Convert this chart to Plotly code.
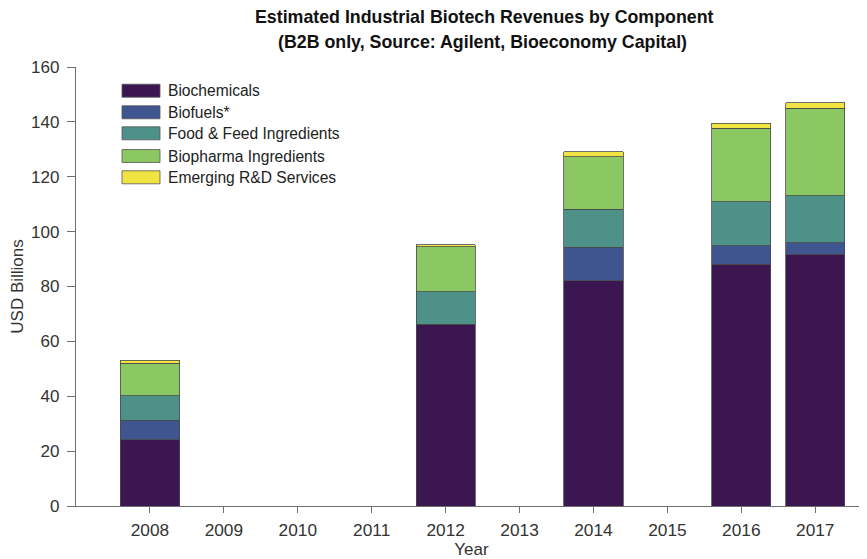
import plotly.graph_objects as go

years = [2008, 2012, 2014, 2016, 2017]
tick_years = [2008, 2009, 2010, 2011, 2012, 2013, 2014, 2015, 2016, 2017]
biochemicals = [24.2, 66.2, 82.1, 88.2, 91.7]
biofuels = [7.0, 0.0, 12.2, 6.6, 4.3]
food_feed = [8.9, 11.9, 13.8, 16.0, 17.0]
biopharma = [11.9, 16.4, 19.2, 26.8, 31.9]
emerging = [1.2, 0.8, 1.8, 1.9, 2.1]

series_names = ["Biochemicals", "Biofuels*", "Food & Feed Ingredients",
                "Biopharma Ingredients", "Emerging R&D Services"]
series_values = [biochemicals, biofuels, food_feed, biopharma, emerging]
colors = ["#3c1651", "#3f558f", "#4e9188", "#8bc864", "#f0e342"]

FONT = "Liberation Sans, Arial, sans-serif"
OFF = 8  # default page body margin
W, H = 867 - OFF, 559 - OFF
ML, MR, MT, MB = 76 - OFF, 0, 67 - OFF, 53
PW = W - ML - MR
PH = H - MT - MB

fig = go.Figure()
for name, vals, col in zip(series_names, series_values, colors):
    fig.add_trace(go.Bar(
        x=years, y=vals, name=name, width=0.8,
        marker=dict(color=col, line=dict(color="#4a4a4a", width=0.8)),
        showlegend=False,
    ))

def px_x(p):
    return (p - OFF - ML) / PW

def px_y(p):
    return 1 - (p - OFF - MT) / PH

shapes = []
annotations = []
row_centers = [90.7, 112.3, 133.3, 156.0, 177.3]
for name, col, yc in zip(series_names, colors, row_centers):
    shapes.append(dict(type="rect", xref="paper", yref="paper",
                       x0=px_x(122), x1=px_x(160),
                       y0=px_y(yc + 6.5), y1=px_y(yc - 6.5),
                       fillcolor=col, line=dict(color="#555555", width=0.8)))
    annotations.append(dict(xref="paper", yref="paper", x=px_x(166), y=px_y(yc),
                            xanchor="left", yanchor="middle", showarrow=False,
                            text=name, font=dict(family=FONT, size=15.6, color="#222222")))

annotations.append(dict(xref="paper", yref="paper", x=px_x(485), y=px_y(17),
                        xanchor="center", yanchor="middle", showarrow=False,
                        text="<b>Estimated Industrial Biotech Revenues by Component</b>",
                        font=dict(family=FONT, size=17.8, color="#111111")))
annotations.append(dict(xref="paper", yref="paper", x=px_x(483), y=px_y(42),
                        xanchor="center", yanchor="middle", showarrow=False,
                        text="<b>(B2B only, Source: Agilent, Bioeconomy Capital)</b>",
                        font=dict(family=FONT, size=17.8, color="#111111")))

fig.update_layout(
    barmode="stack",
    width=W, height=H,
    margin=dict(l=ML, r=MR, t=MT, b=MB, pad=0),
    paper_bgcolor="white", plot_bgcolor="white",
    font=dict(family=FONT, size=17, color="#333333"),
    shapes=shapes, annotations=annotations,
    showlegend=False,
    xaxis=dict(range=[2007.0, 2017.7], tickmode="array", tickvals=tick_years,
               ticktext=[str(y) for y in tick_years],
               showgrid=False, zeroline=False, showline=True, linecolor="#6e6e6e",
               linewidth=1.3, ticks="outside", ticklen=6, tickcolor="#6e6e6e",
               ticklabelstandoff=2,
               tickfont=dict(family=FONT, size=17.3, color="#333333"),
               title=dict(text="Year", standoff=2,
                          font=dict(family=FONT, size=17, color="#333333"))),
    yaxis=dict(range=[0, 160], tickvals=[0, 20, 40, 60, 80, 100, 120, 140, 160],
               showgrid=False, zeroline=False, showline=True, linecolor="#6e6e6e",
               linewidth=1.3, ticks="outside", ticklen=8, tickcolor="#6e6e6e",
               ticklabelstandoff=4,
               tickfont=dict(family=FONT, size=17, color="#333333"),
               title=dict(text="USD Billions", standoff=5,
                          font=dict(family=FONT, size=17, color="#333333"))),
)

fig.write_html("out.html")
